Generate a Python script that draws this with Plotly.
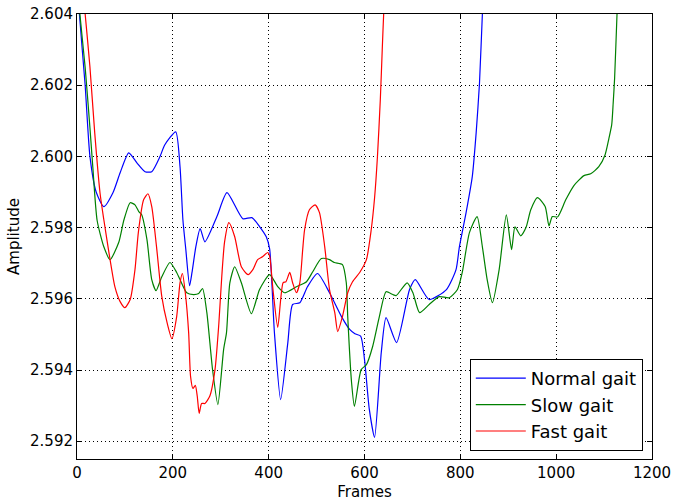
import plotly.graph_objects as go

# Normal gait (blue)
normal_frames = [0, 5, 17, 27, 40, 56, 75, 90, 108, 125, 142, 156, 173, 183, 206, 215, 221, 227, 235, 240, 248,
                 257, 267, 292, 313, 346, 365, 381, 395, 402, 412, 425, 440, 450, 465, 481, 502, 527, 552, 569,
                 580, 592, 600, 610, 621, 635, 645, 667, 694, 706, 735, 771, 791, 798, 812, 825, 833, 840, 846, 852]
normal_amp = [2.6052, 2.6040, 2.6020, 2.6000, 2.5990, 2.59859, 2.59898, 2.59954, 2.60010, 2.59982, 2.59957,
              2.59957, 2.59999, 2.60032, 2.60069, 2.59971, 2.59822, 2.59740, 2.59637, 2.59674, 2.59746,
              2.59797, 2.59760, 2.59831, 2.59898, 2.59825, 2.59828, 2.59803, 2.59774, 2.59740, 2.59505,
              2.59317, 2.59477, 2.59584, 2.59589, 2.59634, 2.59671, 2.59617, 2.59550, 2.59514,
              2.59502, 2.59495, 2.59430, 2.59290, 2.59211, 2.59449, 2.59547, 2.59477, 2.59626, 2.59654,
              2.59598, 2.59626, 2.59682, 2.59746, 2.59842, 2.59944, 2.60066, 2.60206, 2.60400, 2.60550]

# Slow gait (green)
slow_frames = [0, 6, 17, 27, 33, 42, 56, 69, 87, 98, 111, 121, 129, 135, 146, 156, 165, 177, 194, 208, 215,
               229, 243, 254, 262, 271, 283, 294, 306, 312, 319, 329, 343, 364, 381, 402, 419, 433, 458, 479,
               492, 510, 527, 537, 554, 562, 565, 573, 579, 593, 604, 617, 631, 645, 659, 666, 689, 701, 715,
               735, 756, 777, 794, 804, 819, 835, 846, 856, 867, 881, 896, 907, 914, 926, 937, 947, 961, 977,
               985, 992, 1003, 1020, 1037, 1058, 1072, 1089, 1102, 1110, 1116, 1119, 1122, 1127, 1132]
slow_amp = [2.6052, 2.6040, 2.6025, 2.6008, 2.5997, 2.5982, 2.59746, 2.59710, 2.59758, 2.59822, 2.59870,
            2.59864, 2.59845, 2.59836, 2.59766, 2.59654, 2.59623, 2.59662, 2.59702, 2.59674, 2.59654,
            2.59617, 2.59612, 2.59615, 2.59629, 2.59561, 2.59400, 2.59303, 2.59458, 2.59505, 2.59645,
            2.59690, 2.59645, 2.59558, 2.59626, 2.59668, 2.59634, 2.59617, 2.59634, 2.59648,
            2.59676, 2.59713, 2.59710, 2.59702, 2.59696, 2.59645, 2.59550, 2.59365, 2.59298, 2.59401,
            2.59415, 2.59466, 2.59550, 2.59620, 2.59612, 2.59609, 2.59645, 2.59617, 2.59561,
            2.59584, 2.59606, 2.59603, 2.59626, 2.59674, 2.59786, 2.59831, 2.59746, 2.59654, 2.59589,
            2.59682, 2.59836, 2.59738, 2.59802, 2.59777, 2.59800, 2.59850, 2.59884, 2.59859,
            2.59805, 2.59831, 2.59830, 2.59878, 2.59918, 2.59946, 2.59951, 2.59971, 2.60004, 2.60050,
            2.60090, 2.60150, 2.60220, 2.60400, 2.60550]

# Fast gait (red)
fast_frames = [0, 10, 17, 27, 37, 48, 56, 69, 79, 90, 100, 111, 121, 128, 139, 148, 156, 166, 177, 188, 198,
               208, 215, 220, 226, 233, 237, 242, 247, 251, 255, 260, 267, 277, 288, 296, 302, 308, 317, 329,
               343, 357, 367, 377, 387, 398, 402, 409, 419, 430, 436, 444, 450, 458, 465, 471, 475, 485, 497,
               506, 517, 527, 538, 544, 554, 565, 575, 590, 604, 614, 621, 627, 633, 637, 640, 645]
fast_amp = [2.6058, 2.6050, 2.6040, 2.60251, 2.60066, 2.59898, 2.59822, 2.59710, 2.59634, 2.59592, 2.59575,
            2.59598, 2.59682, 2.59786, 2.59878, 2.59895, 2.59859, 2.59746, 2.59606, 2.59533, 2.59488,
            2.59550, 2.59645, 2.59671, 2.59617, 2.59505, 2.59382, 2.59348, 2.59357, 2.59326, 2.59278,
            2.59306, 2.59306, 2.59326, 2.59401, 2.59530, 2.59660, 2.59760, 2.59814, 2.59775,
            2.59690, 2.59668, 2.59682, 2.59710, 2.59718, 2.59730, 2.59720, 2.59626, 2.59520, 2.59645,
            2.59648, 2.59674, 2.59645, 2.59617, 2.59645, 2.59738, 2.59794, 2.59850, 2.59864,
            2.59842, 2.59746, 2.59626, 2.59561, 2.59508, 2.59550, 2.59617, 2.59648, 2.59674, 2.59710,
            2.59794, 2.59883, 2.59999, 2.60159, 2.60299, 2.60400, 2.60520]

series_names = ["Normal gait", "Slow gait", "Fast gait"]
series_colors = ["#0000ff", "#008000", "#ff0000"]

x_ticks = [0, 200, 400, 600, 800, 1000, 1200]
y_ticks = [2.592, 2.594, 2.596, 2.598, 2.600, 2.602, 2.604]

fig = go.Figure()
for name, color, xs, ys in zip(series_names, series_colors,
                               [normal_frames, slow_frames, fast_frames],
                               [normal_amp, slow_amp, fast_amp]):
    fig.add_trace(go.Scatter(x=xs, y=ys, mode="lines", name=name,
                             line=dict(color=color, width=1.2, shape="spline", smoothing=0.6)))

axis_common = dict(
    showline=True, linecolor="black", linewidth=1, mirror="ticks",
    ticks="inside", ticklen=5, tickwidth=1, tickcolor="black",
    showgrid=True, gridcolor="black", gridwidth=1, griddash="1px,3px",
    zeroline=False, automargin=False, ticklabeloverflow="allow",
    tickfont=dict(family="DejaVu Sans", size=15, color="black"),
)

fig.update_xaxes(range=[0, 1200], tickvals=x_ticks, ticktext=[str(v) for v in x_ticks],
                 title=dict(text="Frames", font=dict(family="DejaVu Sans", size=15, color="black"), standoff=6),
                 **axis_common)
fig.update_yaxes(range=[2.5915, 2.604], tickvals=y_ticks, ticktext=[f"{v:.3f}" for v in y_ticks],
                 title=dict(text="Amplitude", font=dict(family="DejaVu Sans", size=15, color="black"), standoff=6),
                 **axis_common)

fig.update_layout(
    width=673, height=501,
    margin=dict(l=77, r=21, t=14, b=42),
    paper_bgcolor="white", plot_bgcolor="white",
    font=dict(family="DejaVu Sans", color="black"),
    legend=dict(x=0.984, y=0.018, xanchor="right", yanchor="bottom",
                bgcolor="white", bordercolor="black", borderwidth=1, itemwidth=50,
                font=dict(family="DejaVu Sans", size=18, color="black")),
)

# remove the default page margin so the figure sits at the window's top-left corner
fig.write_html("out.html", config={"displayModeBar": False},
               post_script="document.body.style.margin='0px';")
